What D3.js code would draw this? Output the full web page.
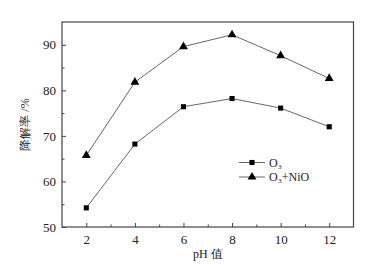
<!DOCTYPE html>
<html><head><meta charset="utf-8">
<script src="https://cdn.jsdelivr.net/npm/d3@7"></script>
<style>body{margin:0;background:#fff;}svg{display:block;}</style>
</head><body>
<script>
const phValues = [2, 4, 6, 8, 10, 12];
const o3 = [54.2, 68.2, 76.4, 78.2, 76.1, 72.0];
const o3NiO = [65.7, 81.8, 89.6, 92.2, 87.6, 82.6];
const xTicks = [2, 4, 6, 8, 10, 12];
const yTicks = [50, 60, 70, 80, 90];
const seriesNames = ["O₃", "O₃+NiO"];

const W = 377, H = 265;
const m = {l: 62, t: 22, r: 23.5, b: 38};
const svg = d3.select("body").append("svg").attr("width", W).attr("height", H);
const x = d3.scaleLinear().domain([1, 13]).range([m.l, W - m.r]);
const y = d3.scaleLinear().domain([50, 95]).range([H - m.b, m.t]);
const serif = "'Liberation Serif','Times New Roman',serif";
const axisColor = "#444";

// box
svg.append("rect").attr("x", m.l).attr("y", m.t)
  .attr("width", x(13) - x(1)).attr("height", y(50) - y(95))
  .attr("fill", "none").attr("stroke", axisColor).attr("stroke-width", 1.2);

// x axis
const xAxis = svg.append("g").attr("transform", `translate(0,${y(50)})`)
  .call(d3.axisBottom(x).tickValues(d3.range(2, 13, 1)).tickSize(-4).tickPadding(8)
    .tickFormat(d => xTicks.includes(d) ? d : ""));
xAxis.select(".domain").remove();
xAxis.selectAll("line").attr("stroke", axisColor).attr("y2", d => xTicks.includes(d) ? -4 : -2.5);
xAxis.selectAll("text").attr("font-family", serif).attr("font-size", 13).attr("fill", "#222");

// y axis
const yAxis = svg.append("g").attr("transform", `translate(${x(1)},0)`)
  .call(d3.axisLeft(y).tickValues(d3.range(50, 95, 5)).tickSize(-4).tickPadding(6)
    .tickFormat(d => yTicks.includes(d) ? d : ""));
yAxis.select(".domain").remove();
yAxis.selectAll("line").attr("stroke", axisColor).attr("x2", d => yTicks.includes(d) ? 4 : 2.5);
yAxis.selectAll("text").attr("font-family", serif).attr("font-size", 13).attr("fill", "#222");

// labels
svg.append("text").attr("transform", `translate(25,${(m.t + y(50)) / 2}) rotate(-90)`)
  .attr("text-anchor", "middle").attr("dominant-baseline", "central")
  .attr("font-family", serif).attr("font-size", 12).attr("fill", "#222")
  .text("降解率 /%");
svg.append("text").attr("x", (x(1) + x(13)) / 2).attr("y", 258)
  .attr("text-anchor", "middle").attr("font-family", serif).attr("font-size", 12).attr("fill", "#222")
  .text("pH 值");

const line = d3.line().x((d, i) => x(phValues[i])).y(d => y(d));
const lineColor = "#555";
const tri = d3.symbol().type(d3.symbolTriangle).size(34);
const sq = d3.symbol().type(d3.symbolSquare).size(26);

[[o3, sq], [o3NiO, tri]].forEach(([data, sym]) => {
  svg.append("path").datum(data).attr("d", line).attr("fill", "none")
    .attr("stroke", lineColor).attr("stroke-width", 0.9);
  svg.selectAll(null).data(data).enter().append("path")
    .attr("d", sym).attr("transform", (d, i) => `translate(${x(phValues[i])},${y(d)})`)
    .attr("fill", "#000");
});

// legend
const lg = svg.append("g");
[[sq, 162.5], [tri, 177]].forEach(([sym, ly], i) => {
  lg.append("line").attr("x1", 239).attr("x2", 265).attr("y1", ly).attr("y2", ly)
    .attr("stroke", lineColor).attr("stroke-width", 0.9);
  lg.append("path").attr("d", sym).attr("transform", `translate(252,${ly})`).attr("fill", "#000");
  lg.append("text").attr("x", 269).attr("y", ly).attr("dominant-baseline", "central")
    .attr("font-family", serif).attr("font-size", 12).attr("fill", "#222").text(seriesNames[i]);
});
</script>
</body></html>
